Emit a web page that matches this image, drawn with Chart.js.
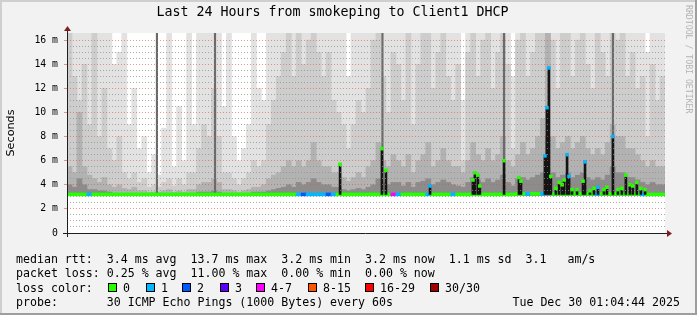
<!DOCTYPE html>
<html>
<head>
<meta charset="utf-8">
<script src="https://cdn.jsdelivr.net/npm/chart.js@4.4.1/dist/chart.umd.min.js"></script>
<style>
html,body{margin:0;padding:0;background:#f2f2f2;}
#wrap{position:relative;width:697px;height:315px;overflow:hidden;}
#c{position:absolute;left:0;top:0;}
.t{position:absolute;font-family:'DejaVu Sans Mono',monospace;font-size:11.6px;line-height:14px;white-space:pre;color:#000;}
.box{position:absolute;width:7px;height:7px;border:1px solid #000;}
#rrd{position:absolute;left:684px;top:5px;writing-mode:vertical-rl;font-family:'DejaVu Sans Mono',monospace;font-size:8.2px;line-height:9px;color:#b4b4b4;white-space:pre;}
</style>
</head>
<body>
<div id="wrap">
<canvas id="c" width="697" height="315"></canvas>
<div id="rrd">RRDTOOL / TOBI OETIKER</div>
<div class="t" style="left:16px;top:252px">median rtt:  3.4 ms avg  13.7 ms max  3.2 ms min  3.2 ms now  1.1 ms sd  3.1   am/s</div>
<div class="t" style="left:16px;top:266px">packet loss: 0.25 % avg  11.00 % max  0.00 % min  0.00 % now</div>
<div class="t" style="left:16px;top:281px">loss color:</div>
<div id="legendItems"></div>
<div class="t" style="left:16px;top:295px">probe:       30 ICMP Echo Pings (1000 Bytes) every 60s</div>
<div class="t" style="right:17px;top:295px">Tue Dec 30 01:04:44 2025</div>
</div>
<script>
// ---- time bins (hours since Mon 00:00), 12-minute columns ----
const FIRST_HOUR = 1.08;
const BIN_HOURS = 0.2;

// smoke band tops (ms) per column, lightest to darkest
const smokeTop = [17,17,17,17,17,17,17,17,17,
  14,15,17,9,12,7,8,5,6.5,4.8,8.7,17,5.5,10.5,6,17,9,
  17,17,17,17,17,
  10.5,17,8,6,7,9,17,12,11,
  17,17,17,17,17,17,17,17,17,17,17,17,17,17,17,17,13,17,17,17,
  17,17,17,17,17,17,17,17,17,17, 17,17,17,17,17,17,17,17,17,11,
  17,17,17,17,17,17,17,17,17,13, 17,17,17,17,17,17,17,17,17,17,
  17,17,17,17,17,17,17,17,17,17, 17,17,17,17,17,17,15,17,17,17];
const smokeMid = [17,13,11,14,9,17,8,12,7,
  6,8,5,4.5,5,4.2,4.5,3.8,4,3.8,4.2,4.5,3.9,4.5,4,5,5,
  7,9,8,12,8,
  5,5,4.5,4,4.5,5,6,5.5,6,
  9,11,13,15,17,13,17,14,16,17,15,13,15,11,10,9,7,9,11,10,
  12,16,17,13,10,15,14,11,17,9, 14,17,17,12,15,17,13,11,14,6,
  15,17,13,16,17,12,15,17,14,7, 16,17,13,15,17,17,17,16,12,17,
  17,13,16,17,14,12,17,15,13,17, 16,17,13,15,12,13,8,14,11,13];
const smokeDark = [5.5,5,10,5.5,4.8,4.5,4.2,4.6,4,
  3.8,4,3.7,3.6,3.8,3.5,3.5,3.4,3.4,3.4,3.5,3.6,3.4,3.5,3.4,3.6,3.6,
  4,4.2,4.2,4.5,4.2,
  3.6,3.6,3.5,3.4,3.5,3.6,3.8,3.8,4,
  4.5,4.8,5,5.5,6,5.5,6,5.5,6,7.5,6,5.5,5.5,5,5,4.6,4.3,4.6,5,4.6,
  5.5,6,7.5,6,5.5,6.5,6,5.5,6.5,5, 6,6.5,7.5,5.5,6,7,6,5.5,5.5,5,
  6,7.5,6.5,6,7,6,6.5,8,6,5.5, 6.5,7.5,6.5,7,8,9.5,17,8,7,7.5,
  8,7,7.5,8,7,6.5,7,6.5,7.5,9, 8,8,7,7,6.5,6,5.5,6,5.5,5.5];
const smokeCore = [4,3.8,4.5,4,3.6,3.6,3.5,3.5,3.4,
  3.3,3.3,3.3,3.3,3.3,3.3,3.3,3.3,3.3,3.3,3.3,3.3,3.3,3.3,3.3,3.3,3.3,
  3.4,3.4,3.4,3.5,3.4,
  3.3,3.3,3.3,3.3,3.3,3.3,3.4,3.4,3.4,
  3.5,3.6,3.7,3.8,4,3.8,4.2,4,4.2,4.5,4.2,4,4,3.8,3.8,3.6,3.5,3.6,3.7,3.6,
  3.8,4,4.5,4.2,4,4.2,4.2,3.9,4.2,3.8, 4.2,4.3,4.5,4,4.2,4.4,4.2,4,3.9,3.8,
  4.2,4.6,4.4,4.2,4.5,4.2,4.4,4.8,4.2,3.9, 4.5,4.6,4.4,4.6,4.8,5,8,5,4.6,4.8,
  5,4.6,4.8,5,4.6,4.4,4.6,4.4,4.8,5.5, 5,5,4.6,4.6,4.4,4.2,4,4.2,4,4];
const smokeFloor = 3.1;

// median rtt (ms) and lost packets per column
const medianRtt = [3.2,3.2,3.2,3.2,3.2,3.2,3.2,3.2,3.2,3.2, 3.2,3.2,3.2,3.2,3.2,3.2,3.2,3.2,3.2,3.2,
  3.2,3.2,3.2,3.2,3.2,3.2,3.2,3.2,3.2,3.2, 3.2,3.2,3.2,3.2,3.2,3.2,3.2,3.2,3.2,3.2,
  3.2,3.2,3.2,3.2,3.2,3.2,3.2,3.2,3.2,3.2, 3.2,3.2,3.2,3.2,3.2,3.2,3.2,3.2,3.2,3.2,
  3.2,3.2,3.2,3.2,3.2,3.2,3.2,3.2,3.2,3.2, 3.2,3.2,3.2,3.2,3.2,3.2,3.2,3.2,3.2,3.2,
  3.2,3.2,3.2,3.2,3.2,3.2,3.2,3.2,3.2,3.2, 3.25,3.25,3.25,3.25,3.25,3.25,3.3,3.25,3.25,3.25,
  3.25,3.25,3.25,3.25,3.25,3.25,3.25,3.25,3.25,3.25, 3.25,3.25,3.25,3.25,3.25,3.2,3.2,3.2,3.2,3.2];
const lossCount = [0,0,0,0,1,0,0,0,0,0, 0,0,0,0,0,0,0,0,0,0,
  0,0,0,0,0,0,0,0,0,0, 0,0,0,0,0,0,0,0,0,0,
  0,0,0,0,0,0,1,2,1,1, 1,1,2,1,0,0,0,0,0,0,
  0,0,0,0,0,4,1,0,0,0, 0,0,1,0,0,0,0,1,0,0,
  0,0,0,0,0,0,0,0,0,0, 0,0,1,0,0,1,1,0,0,0,
  0,0,0,0,0,0,1,0,0,0, 0,0,0,0,0,1,0,0,0,0];

// short high-median steps (hour, median ms, lost packets)
const spikeHours = [12.04,13.72,13.88,15.65,17.37,17.45,17.57,17.65,18.62,19.22,19.30,
  20.26,20.34,20.42,20.50,20.70,20.83,20.95,21.03,21.15,21.23,21.35,21.55,21.79,21.87,
  22.07,22.23,22.39,22.63,22.75,22.99,23.19,23.35,23.51,23.67,23.79,23.95,24.11,24.28];
const spikeRtt = [5.7,7.0,5.2,3.9,4.4,5.0,4.8,3.9,6.0,4.6,4.3,
  6.4,10.4,13.7,4.7,3.7,4.2,4.0,4.4,6.5,4.7,3.6,3.6,4.3,5.9,
  3.5,3.7,3.8,3.6,3.8,8.0,3.6,3.7,4.8,4.0,3.9,4.2,3.7,3.6];
const spikeLoss = [0,0,0,1,0,0,0,0,0,0,0,
  1,1,1,0,0,0,0,0,1,1,0,0,0,1,
  0,0,1,0,0,1,0,0,0,0,0,0,0,0];
// dense full-height smoke streaks (hour)
const streakHours = [4.69,7.02,13.74,18.62,22.99];

// axis labels
const tickHours = [4,8,12,16,20,24];
const tickLabels = ['Mon 04:00','Mon 08:00','Mon 12:00','Mon 16:00','Mon 20:00','Tue 00:00'];
const lossBuckets = ['0','1','2','3','4-7','8-15','16-29','30/30'];
const lossBucketColors = ['#26ff00','#00b8ff','#0059ff','#5e00ff','#ff00ff','#ff5500','#ff0000','#a10000'];

function lossColor(n){
  if(n<=0) return lossBucketColors[0];
  if(n===1) return lossBucketColors[1];
  if(n===2) return lossBucketColors[2];
  if(n===3) return lossBucketColors[3];
  if(n<8) return lossBucketColors[4];
  if(n<16) return lossBucketColors[5];
  if(n<30) return lossBucketColors[6];
  return lossBucketColors[7];
}

// legend boxes (HTML text)
const legendBoxX = [108,146,182,220,256,308,365,430];
const li = document.getElementById('legendItems');
lossBuckets.forEach((lab,i)=>{
  const b=document.createElement('div'); b.className='box';
  b.style.left=legendBoxX[i]+'px'; b.style.top='283px'; b.style.background=lossBucketColors[i];
  li.appendChild(b);
  const t=document.createElement('div'); t.className='t';
  t.style.left=(legendBoxX[i]+15)+'px'; t.style.top='281px'; t.textContent=lab;
  li.appendChild(t);
});

const binCenters = smokeTop.map((_,i)=>FIRST_HOUR + BIN_HOURS*(i+0.5));
function band(tops){ return tops.map((v,i)=>({x:binCenters[i], y:[smokeFloor, v]})); }
const COL_W = 5.1;
const isMult = (v,m)=>Math.abs(v/m - Math.round(v/m))<1e-6;

const MGRID='rgba(222,79,79,0.6)', GRID='rgba(143,143,143,0.75)';

const framePlugin = {
  id:'frame',
  beforeDraw(chart){
    const {ctx, chartArea:a} = chart;
    ctx.save();
    ctx.fillStyle='#f2f2f2'; ctx.fillRect(0,0,chart.width,chart.height);
    ctx.fillStyle='#ffffff'; ctx.fillRect(a.left,a.top,a.right-a.left,a.bottom-a.top);
    ctx.restore();
  },
  afterDraw(chart){
    const {ctx, chartArea:a} = chart;
    const W=chart.width, H=chart.height;
    ctx.save();
    ctx.strokeStyle='#1f1f1f'; ctx.lineWidth=1;
    ctx.beginPath();
    ctx.moveTo(a.left-4, a.bottom+0.5); ctx.lineTo(a.right+3, a.bottom+0.5);
    ctx.moveTo(a.left+0.5, a.bottom+4); ctx.lineTo(a.left+0.5, a.top-3);
    ctx.stroke();
    ctx.fillStyle='#7f1f1f';
    ctx.beginPath();
    ctx.moveTo(a.right+2, a.bottom-3); ctx.lineTo(a.right+7, a.bottom+0.5); ctx.lineTo(a.right+2, a.bottom+4); ctx.closePath(); ctx.fill();
    ctx.beginPath();
    ctx.moveTo(a.left-3, a.top-2); ctx.lineTo(a.left+0.5, a.top-7); ctx.lineTo(a.left+4, a.top-2); ctx.closePath(); ctx.fill();
    ctx.fillStyle='#cfcfcf';
    ctx.fillRect(0,0,W,2); ctx.fillRect(0,0,2,H);
    ctx.fillStyle='#9e9e9e';
    ctx.fillRect(0,H-2,W,2); ctx.fillRect(W-2,0,2,H);
    ctx.restore();
  }
};

new Chart(document.getElementById('c'), {
  type:'bar',
  data:{
    datasets:[
      {label:'median markers', data: spikeHours.map((t,i)=>({x:t, y:[spikeRtt[i]-0.12, spikeRtt[i]+0.12]})),
        backgroundColor: spikeLoss.map(lossColor), barThickness:3, order:1},
      {label:'high median steps', data: spikeHours.map((t,i)=>({x:t, y:[3.2, spikeRtt[i]]})),
        backgroundColor:'#141414', barThickness:2, order:2},
      {label:'median rtt', data: medianRtt.map((m,i)=>({x:binCenters[i], y:[m-0.12, m+0.12]})),
        backgroundColor: lossCount.map(lossColor), barThickness:COL_W, order:3},
      {label:'streaks', data: streakHours.map(t=>({x:t, y:[smokeFloor, 17]})),
        backgroundColor:'#6a6a6a', barThickness:1.5, order:4},
      {label:'smoke core', data: band(smokeCore), backgroundColor:'#8c8c8c', barThickness:COL_W, order:5},
      {label:'smoke dark', data: band(smokeDark), backgroundColor:'#b2b2b2', barThickness:COL_W, order:6},
      {label:'smoke mid', data: band(smokeMid), backgroundColor:'#cdcdcd', barThickness:COL_W, order:7},
      {label:'smoke light', data: band(smokeTop), backgroundColor:'#e2e2e2', barThickness:COL_W, order:8}
    ]
  },
  options:{
    responsive:false, animation:false, events:[],
    layout:{padding:{left:0,right:32,top:0,bottom:62}},
    datasets:{bar:{grouped:false, borderWidth:0}},
    plugins:{
      legend:{display:false}, tooltip:{enabled:false},
      title:{display:true, text:'Last 24 Hours from smokeping to Client1 DHCP', color:'#000',
        font:{family:'DejaVu Sans Mono', size:13.3, weight:'normal'}, padding:{top:5,bottom:12}}
    },
    scales:{
      x:{type:'linear', min:FIRST_HOUR, max:FIRST_HOUR+24, offset:false,
        afterFit:s=>{s.height=20;},
        grid:{offset:false, z:1, drawTicks:true, tickLength:3,
          color:c=>{const v=c.tick.value; if(!isMult(v,1)) return 'rgba(0,0,0,0)'; return isMult(v,2)?MGRID:GRID;},
          tickColor:c=>{const v=c.tick.value; if(!isMult(v,1)) return 'rgba(0,0,0,0)'; return isMult(v,2)?MGRID:GRID;}},
        border:{display:false, dash:[1,2]},
        ticks:{stepSize:1, autoSkip:false, maxRotation:0, padding:1, color:'#000',
          font:{family:'DejaVu Sans Mono', size:9.8},
          callback:v=>{const k=tickHours.findIndex(h=>Math.abs(h-v)<1e-6); return k>=0?tickLabels[k]:'';}}
      },
      y:{min:0, max:16.6,
        afterFit:s=>{s.width=67;},
        title:{display:true, text:'Seconds', color:'#000', font:{family:'DejaVu Sans', size:11.2}, padding:{top:4,bottom:0}},
        grid:{z:1, drawTicks:true, tickLength:3,
          color:c=>{const v=c.tick.value; if(!isMult(v,0.5)) return 'rgba(0,0,0,0)'; return isMult(v,2)?MGRID:GRID;},
          tickColor:c=>{const v=c.tick.value; return isMult(v,2)?MGRID:'rgba(0,0,0,0)';}},
        border:{display:false, dash:[1,2]},
        ticks:{stepSize:0.5, autoSkip:false, padding:6, color:'#000',
          font:{family:'DejaVu Sans Mono', size:9.8},
          callback:v=>{ if(!isMult(v,2)) return ''; return v===0?'0':(Math.round(v)+' m'); }}
      }
    }
  },
  plugins:[framePlugin]
});
</script>
</body>
</html>
